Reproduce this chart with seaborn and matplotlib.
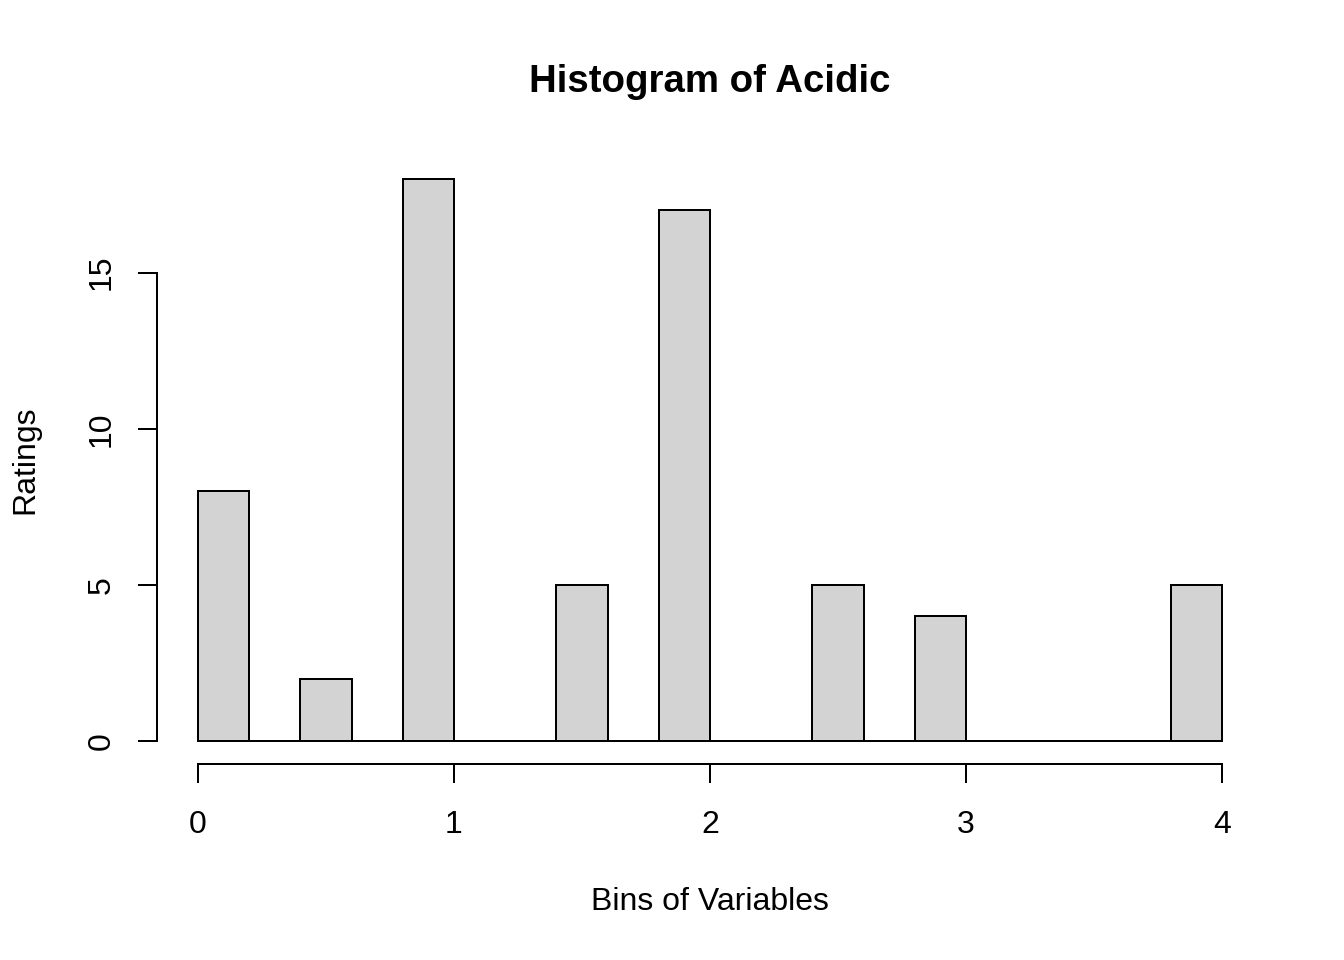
import matplotlib
matplotlib.use("Agg")
import matplotlib.pyplot as plt
import seaborn as sns

# Data (histogram with bins of width 0.2 from 0 to 4)
bin_edges = [0.0, 0.2, 0.4, 0.6, 0.8, 1.0, 1.2, 1.4, 1.6, 1.8, 2.0,
             2.2, 2.4, 2.6, 2.8, 3.0, 3.2, 3.4, 3.6, 3.8, 4.0]
bin_mids = [0.1, 0.3, 0.5, 0.7, 0.9, 1.1, 1.3, 1.5, 1.7, 1.9,
            2.1, 2.3, 2.5, 2.7, 2.9, 3.1, 3.3, 3.5, 3.7, 3.9]
counts = [8, 0, 2, 0, 18, 0, 0, 5, 0, 17,
          0, 0, 5, 0, 4, 0, 0, 0, 0, 5]
x_ticks = [0, 1, 2, 3, 4]
y_ticks = [0, 5, 10, 15]
title = "Histogram of Acidic"
xlabel = "Bins of Variables"
ylabel = "Ratings"

plt.rcParams['font.family'] = ['Liberation Sans', 'DejaVu Sans']

fig = plt.figure(figsize=(7, 5), dpi=192)
L, R, B, T = 157 / 1344, 1263 / 1344, 1 - 763.5 / 960, 1 - 156.5 / 960
ax = fig.add_axes([L, B, R - L, T - B])

sns.histplot(x=bin_mids, weights=counts, bins=bin_edges, color="#D3D3D3",
             edgecolor="black", linewidth=0.75, alpha=1, ax=ax)

ax.set_xlim(-0.16, 4.16)
ax.set_ylim(-0.72, 18.72)
ax.set_xticks(x_ticks)
ax.set_yticks(y_ticks)
ax.set_xticklabels([str(t) for t in x_ticks], fontsize=12)
ax.set_yticklabels([str(t) for t in y_ticks], fontsize=12, rotation=90, va='center')
ax.set_xlabel("")
ax.set_ylabel("")
for s in ["top", "right"]:
    ax.spines[s].set_visible(False)
ax.spines["left"].set_bounds(0, 15)
ax.spines["bottom"].set_bounds(0, 4)
for s in ["left", "bottom"]:
    ax.spines[s].set_linewidth(0.75)
ax.tick_params(axis='both', direction='out', length=7, width=0.75, color='black')
ax.tick_params(axis='x', pad=10.5)
ax.tick_params(axis='y', pad=8)
ax.patch.set_visible(False)

cx = (L + R) / 2
fig.text(cx, 1 - 82 / 960, title, ha='center', va='center', fontsize=14.4, fontweight='bold')
fig.text(cx, 1 - 902 / 960, xlabel, ha='center', va='center', fontsize=12)
fig.text(25 / 1344, 1 - 460 / 960, ylabel, ha='center', va='center', fontsize=12, rotation=90)

fig.savefig("out.png", dpi=192, facecolor="white")
